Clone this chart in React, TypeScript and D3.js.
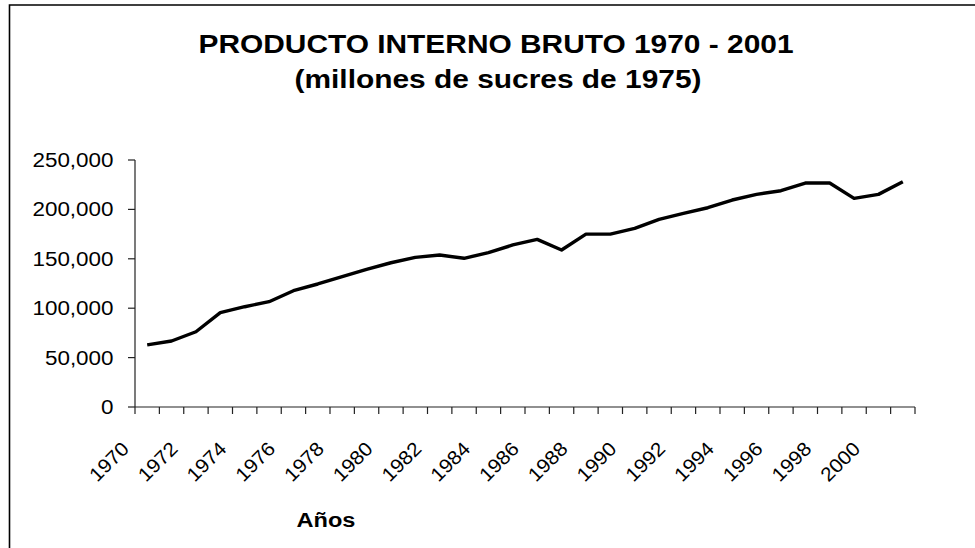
import * as d3 from "d3";

// PIB Ecuador, millones de sucres de 1975
const years = d3.range(1970, 2002).map(String);
const pib = [
  62900, 66800, 76200, 95500, 101500, 106600, 117700, 124500, 131900, 139400,
  146000, 151500, 153800, 150500, 156200, 164000, 169700, 158900, 175000, 175000,
  180800, 189900, 196000, 201700, 209500, 215200, 218900, 226700, 226700, 211200,
  215200, 228000,
];
const yTicks = [0, 50000, 100000, 150000, 200000, 250000];
const xLabels = years.filter((_, i) => i % 2 === 0 && i < 31);

const W = 975;
const H = 548;
const FONT = "'Liberation Sans', Arial, Helvetica, sans-serif";
const SX = 1.15; // the original picture is stretched horizontally

export default function App() {
  const x = d3.scaleBand<string>().domain(years).range([135, 915]);
  const y = d3.scaleLinear().domain([0, 250000]).range([407, 160]);
  const cx = (yr: string) => (x(yr) as number) + x.bandwidth() / 2;

  const line = d3
    .line<number>()
    .x((_, i) => cx(years[i]))
    .y((d) => y(d));

  const fmt = d3.format(",");
  const boundaries = years.map((yr) => x(yr) as number).concat([915]);

  return (
    <svg
      width={W}
      height={H}
      style={{ position: "absolute", left: 0, top: 0, background: "#fff" }}
      fontFamily={FONT}
    >
      <rect x={0} y={0} width={W} height={H} fill="#fff" />
      {/* frame (only top and left edges are visible) */}
      <path d={`M9.5,${H + 5} V5 H${W + 5}`} fill="none" stroke="#000" strokeWidth={1.6} />

      {/* title */}
      <g fontWeight="bold" fontSize={26} textAnchor="middle" fill="#000">
        <text transform={`translate(496,53) scale(${SX},1)`}>
          PRODUCTO INTERNO BRUTO 1970 - 2001
        </text>
        <text transform={`translate(498,88) scale(${SX},1)`}>
          (millones de sucres de 1975)
        </text>
      </g>

      {/* y axis */}
      <line x1={135} x2={135} y1={y(250000)} y2={y(0)} stroke="#222" strokeWidth={1.2} />
      {yTicks.map((t) => (
        <g key={t}>
          <line x1={128} x2={135} y1={y(t)} y2={y(t)} stroke="#222" strokeWidth={1.2} />
          <text
            transform={`translate(113.5,${y(t) + 7}) scale(${SX},1)`}
            textAnchor="end"
            fontSize={19.5}
            fill="#000"
          >
            {fmt(t)}
          </text>
        </g>
      ))}

      {/* x axis */}
      <line x1={135} x2={915} y1={y(0)} y2={y(0)} stroke="#222" strokeWidth={1.2} />
      {boundaries.map((b, i) => (
        <line key={i} x1={b} x2={b} y1={y(0)} y2={y(0) + 7} stroke="#222" strokeWidth={1.2} />
      ))}
      {xLabels.map((yr) => (
        <text
          key={yr}
          transform={`translate(${cx(yr) - 17},450) rotate(-45) scale(1.07,1)`}
          textAnchor="end"
          fontSize={19.5}
          fill="#000"
        >
          {yr}
        </text>
      ))}

      {/* series */}
      <path
        d={line(pib) as string}
        fill="none"
        stroke="#000"
        strokeWidth={3.4}
        strokeLinejoin="round"
      />

      {/* axis title */}
      <text
        transform={`translate(326,527) scale(${SX},1)`}
        textAnchor="middle"
        fontWeight="bold"
        fontSize={20.5}
        fill="#000"
      >
        Años
      </text>
    </svg>
  );
}
